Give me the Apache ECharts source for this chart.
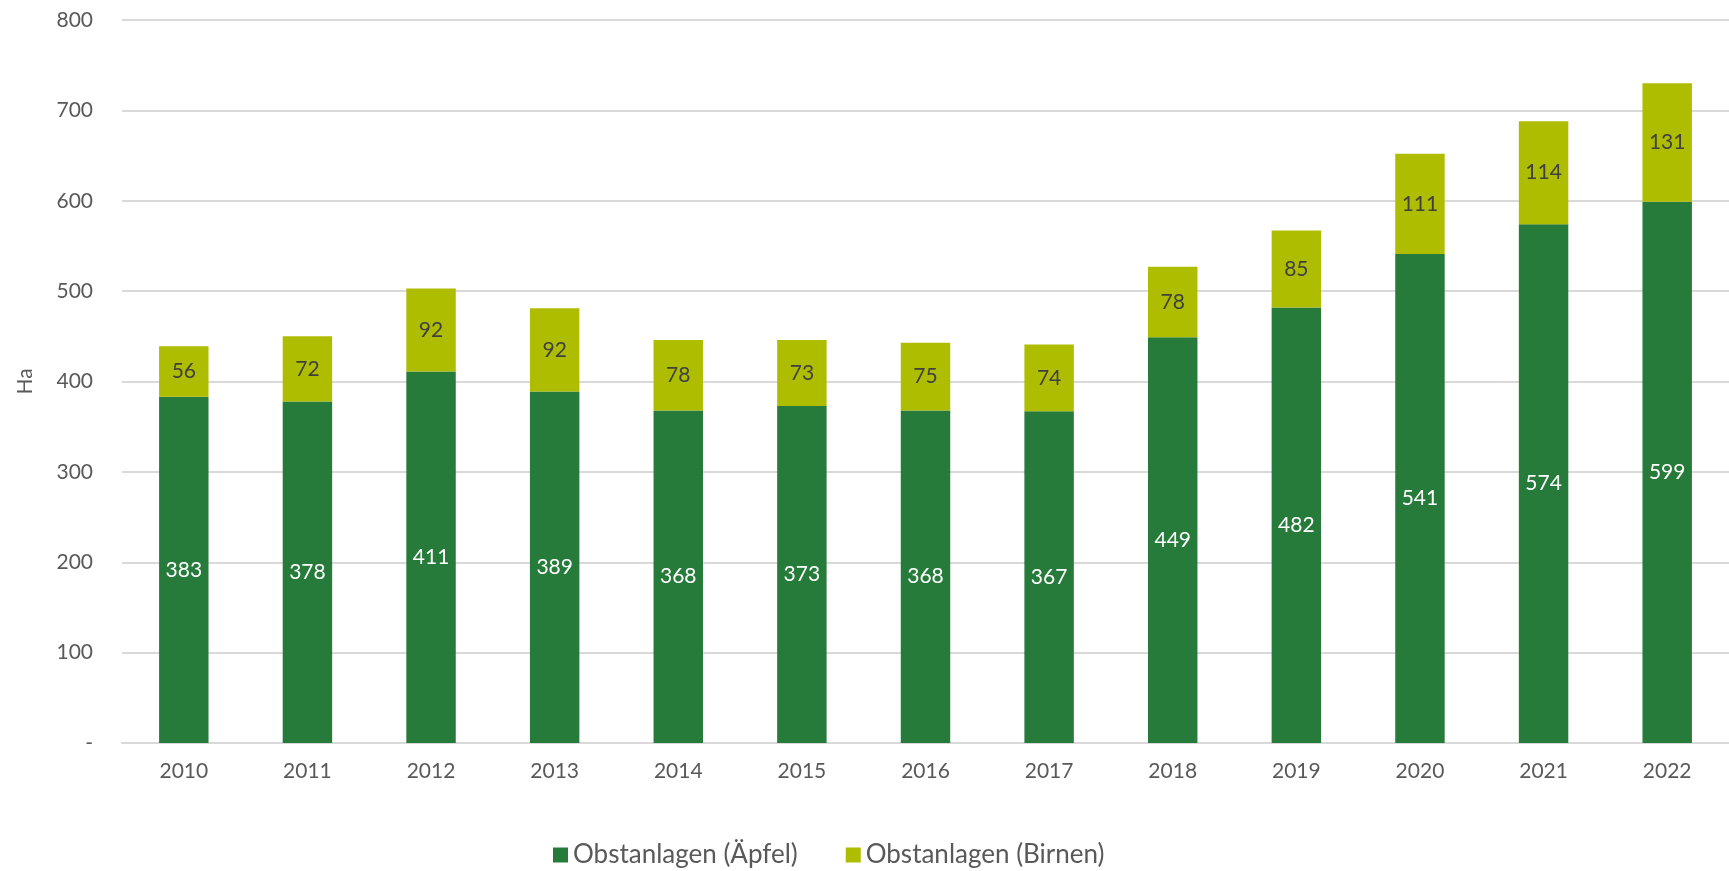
<!DOCTYPE html>
<html>
<head>
<meta charset="utf-8">
<script src="https://cdn.jsdelivr.net/npm/echarts@6/dist/echarts.min.js"></script>
<style>html,body{margin:0;padding:0;background:#fff}#c{width:1729px;height:871px}</style>
</head>
<body>
<div id="c"></div>
<script>
const years = ['2010','2011','2012','2013','2014','2015','2016','2017','2018','2019','2020','2021','2022'];
const aepfel = [383,378,411,389,368,373,368,367,449,482,541,574,599];
const birnen = [56,72,92,92,78,73,75,74,78,85,111,114,131];
const yTicks = {min:0, max:800, interval:100};
const seriesNames = ['Obstanlagen (Äpfel)','Obstanlagen (Birnen)'];

const font = 'Lato, "Open Sans", sans-serif';
const chart = echarts.init(document.getElementById('c'), null, {renderer:'canvas'});
chart.setOption({
  animation:false,
  grid:{left:122, right:0, top:20, bottom:128},
  legend:{
    left:548, top:837, itemWidth:15, itemHeight:15, itemGap:48,
    icon:'rect',
    textStyle:{fontFamily:font, fontSize:26, color:'#595959'},
    data:seriesNames
  },
  xAxis:{
    type:'category', data:years,
    axisLine:{lineStyle:{color:'#d9d9d9', width:2}},
    axisTick:{show:false},
    axisLabel:{fontFamily:font, fontSize:21, color:'#595959', margin:18}
  },
  yAxis:{
    type:'value', min:yTicks.min, max:yTicks.max, interval:yTicks.interval,
    name:'Ha', nameLocation:'middle', nameGap:86, nameRotate:90,
    nameTextStyle:{fontFamily:font, fontSize:21, color:'#595959'},
    axisLine:{show:false}, axisTick:{show:false},
    splitLine:{lineStyle:{color:'#d9d9d9', width:2}},
    axisLabel:{fontFamily:font, fontSize:21, color:'#595959', margin:29,
      formatter:v => v === 0 ? '-' : String(v)}
  },
  series:[
    {name:seriesNames[0], type:'bar', stack:'a', data:aepfel, barWidth:'40%',
     itemStyle:{color:'#267b3a'},
     label:{show:true, position:'inside', fontFamily:font, fontSize:21, color:'#ffffff'}},
    {name:seriesNames[1], type:'bar', stack:'a', data:birnen, barWidth:'40%',
     itemStyle:{color:'#afbd00'},
     label:{show:true, position:'inside', fontFamily:font, fontSize:21, color:'#404040'}}
  ]
});
</script>
</body>
</html>
